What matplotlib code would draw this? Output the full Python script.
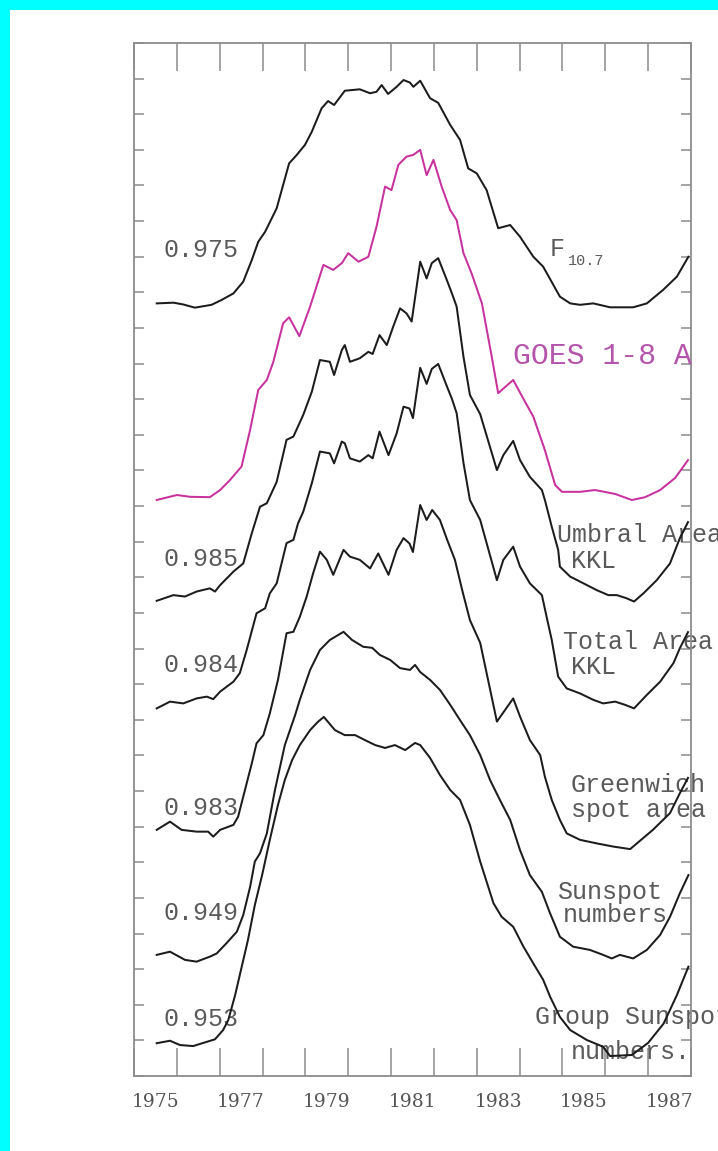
import matplotlib
matplotlib.use("Agg")
import matplotlib.pyplot as plt
from matplotlib.patches import Rectangle
from matplotlib.ticker import MultipleLocator, FixedLocator, FixedFormatter, NullFormatter

# ---- smoothed solar-activity indices, cycle 21 (stacked, arbitrary units) ----
f107_t = [1975.53, 1975.92, 1976.15, 1976.42, 1976.81, 1977.05, 1977.32, 1977.55, 1977.75, 1977.90,
          1978.06, 1978.33, 1978.62, 1978.80, 1978.99, 1979.15, 1979.38, 1979.53, 1979.67, 1979.79,
          1979.92, 1980.27, 1980.51, 1980.66, 1980.78, 1980.93, 1981.13, 1981.29, 1981.44, 1981.52,
          1981.68, 1981.91, 1982.10, 1982.38, 1982.61, 1982.80, 1983.00, 1983.23, 1983.50, 1983.78,
          1984.01, 1984.32, 1984.55, 1984.94, 1985.18, 1985.41, 1985.72, 1986.11, 1986.65, 1986.97,
          1987.35, 1987.67, 1987.94]
f107_v = [21.69, 21.71, 21.66, 21.57, 21.65, 21.79, 21.97, 22.30, 22.91, 23.42,
          23.70, 24.36, 25.62, 25.86, 26.14, 26.51, 27.17, 27.37, 27.26, 27.45,
          27.66, 27.70, 27.59, 27.63, 27.82, 27.57, 27.77, 27.96, 27.89, 27.77,
          27.94, 27.45, 27.32, 26.70, 26.28, 25.48, 25.34, 24.87, 23.80, 23.89,
          23.56, 23.00, 22.72, 21.88, 21.69, 21.65, 21.69, 21.58, 21.58, 21.69,
          22.07, 22.44, 23.00]

goes_t = [1975.53, 1976.00, 1976.31, 1976.77, 1977.01, 1977.24, 1977.51, 1977.71, 1977.90, 1978.10,
          1978.25, 1978.48, 1978.62, 1978.86, 1979.11, 1979.42, 1979.65, 1979.85, 1980.00, 1980.24,
          1980.47, 1980.66, 1980.86, 1981.01, 1981.17, 1981.36, 1981.52, 1981.68, 1981.83, 1981.99,
          1982.18, 1982.38, 1982.53, 1982.69, 1982.88, 1983.12, 1983.35, 1983.50, 1983.66, 1983.85,
          1984.08, 1984.32, 1984.59, 1984.83, 1984.99, 1985.41, 1985.76, 1986.23, 1986.62, 1986.93,
          1987.28, 1987.63, 1987.93]
goes_v = [16.17, 16.31, 16.26, 16.25, 16.45, 16.73, 17.11, 18.14, 19.26, 19.54,
          20.04, 21.13, 21.30, 20.77, 21.60, 22.77, 22.63, 22.82, 23.10, 22.86,
          23.00, 23.84, 24.97, 24.87, 25.58, 25.81, 25.86, 26.00, 25.29, 25.72,
          24.97, 24.31, 24.03, 23.10, 22.53, 21.69, 20.19, 19.17, 19.34, 19.54,
          19.03, 18.51, 17.57, 16.59, 16.40, 16.40, 16.45, 16.34, 16.17, 16.25,
          16.45, 16.79, 17.29]

umbral_t = [1975.53, 1975.92, 1976.19, 1976.46, 1976.77, 1976.89, 1977.01, 1977.32, 1977.55, 1977.75,
            1977.94, 1978.10, 1978.33, 1978.56, 1978.72, 1978.95, 1979.15, 1979.34, 1979.57, 1979.67,
            1979.85, 1979.92, 1980.04, 1980.27, 1980.47, 1980.57, 1980.73, 1980.90, 1981.05, 1981.21,
            1981.36, 1981.48, 1981.68, 1981.83, 1981.95, 1982.10, 1982.30, 1982.42, 1982.53, 1982.69,
            1982.84, 1983.08, 1983.47, 1983.62, 1983.85, 1984.01, 1984.24, 1984.52, 1984.59, 1984.75,
            1984.90, 1984.94, 1985.18, 1985.41, 1985.80, 1986.07, 1986.27, 1986.50, 1986.67, 1986.89,
            1987.20, 1987.51, 1987.74, 1987.93]
umbral_v = [13.34, 13.50, 13.46, 13.60, 13.69, 13.60, 13.78, 14.16, 14.39, 15.24,
            15.98, 16.08, 16.68, 17.86, 17.95, 18.56, 19.21, 20.10, 20.05, 19.68,
            20.38, 20.52, 20.05, 20.15, 20.33, 20.27, 20.80, 20.52, 21.04, 21.55,
            21.41, 21.18, 22.86, 22.39, 22.82, 22.96, 22.35, 21.97, 21.60, 20.19,
            19.12, 18.58, 17.01, 17.43, 17.83, 17.29, 16.82, 16.45, 16.17, 15.42,
            14.77, 14.30, 14.02, 13.88, 13.64, 13.50, 13.50, 13.41, 13.32, 13.55,
            13.92, 14.39, 15.10, 15.55]

total_t = [1975.53, 1975.84, 1976.15, 1976.46, 1976.70, 1976.85, 1977.01, 1977.32, 1977.47, 1977.63,
           1977.86, 1978.06, 1978.17, 1978.33, 1978.56, 1978.72, 1978.83, 1978.95, 1979.15, 1979.34,
           1979.57, 1979.67, 1979.85, 1979.92, 1980.04, 1980.27, 1980.47, 1980.57, 1980.73, 1980.94,
           1981.13, 1981.29, 1981.43, 1981.51, 1981.68, 1981.83, 1981.95, 1982.10, 1982.30, 1982.42,
           1982.53, 1982.69, 1982.84, 1983.08, 1983.47, 1983.62, 1983.85, 1984.01, 1984.24, 1984.52,
           1984.63, 1984.75, 1984.90, 1985.10, 1985.41, 1985.72, 1985.95, 1986.23, 1986.46, 1986.67,
           1986.97, 1987.28, 1987.59, 1987.74, 1987.93]
total_v = [10.32, 10.51, 10.46, 10.60, 10.65, 10.58, 10.79, 11.07, 11.31, 11.96,
           12.99, 13.13, 13.55, 13.83, 14.96, 15.05, 15.52, 15.84, 16.64, 17.53,
           17.48, 17.20, 17.81, 17.76, 17.34, 17.25, 17.43, 17.34, 18.09, 17.43,
           18.04, 18.79, 18.74, 18.47, 19.88, 19.43, 19.85, 19.99, 19.37, 19.01,
           18.61, 17.21, 16.17, 15.61, 13.92, 14.49, 14.86, 14.30, 13.83, 13.50,
           12.89, 12.24, 11.21, 10.88, 10.74, 10.56, 10.46, 10.51, 10.42, 10.32,
           10.70, 11.07, 11.59, 12.01, 12.46]

green_t = [1975.53, 1975.84, 1976.11, 1976.46, 1976.73, 1976.85, 1977.01, 1977.32, 1977.43, 1977.59,
           1977.75, 1977.86, 1978.02, 1978.17, 1978.36, 1978.56, 1978.72, 1978.87, 1979.03, 1979.18,
           1979.34, 1979.50, 1979.65, 1979.89, 1980.04, 1980.27, 1980.51, 1980.70, 1980.94, 1981.13,
           1981.29, 1981.43, 1981.51, 1981.68, 1981.83, 1981.96, 1982.14, 1982.31, 1982.49, 1982.66,
           1982.84, 1983.08, 1983.47, 1983.85, 1984.01, 1984.24, 1984.48, 1984.59, 1984.75, 1984.94,
           1985.10, 1985.41, 1985.80, 1986.19, 1986.58, 1987.11, 1987.51, 1987.74, 1987.93]
green_v = [6.91, 7.14, 6.91, 6.86, 6.86, 6.72, 6.91, 7.05, 7.28, 8.03,
           8.78, 9.34, 9.57, 10.18, 11.12, 12.43, 12.47, 12.89, 13.46, 14.11,
           14.72, 14.49, 14.07, 14.77, 14.58, 14.49, 14.25, 14.67, 14.07, 14.77,
           15.10, 14.95, 14.71, 16.03, 15.61, 15.89, 15.61, 15.05, 14.49, 13.64,
           12.80, 12.16, 9.95, 10.60, 10.09, 9.43, 9.01, 8.40, 7.75, 7.19,
           6.81, 6.63, 6.53, 6.44, 6.37, 6.91, 7.38, 7.94, 8.37]

ssn_t = [1975.53, 1975.84, 1976.19, 1976.46, 1976.77, 1976.93, 1977.16, 1977.40, 1977.55, 1977.71,
         1977.82, 1977.94, 1978.10, 1978.29, 1978.52, 1978.76, 1978.87, 1979.11, 1979.34, 1979.57,
         1979.89, 1980.09, 1980.35, 1980.56, 1980.74, 1980.98, 1981.21, 1981.44, 1981.56, 1981.68,
         1981.91, 1982.14, 1982.38, 1982.61, 1982.84, 1983.08, 1983.31, 1983.54, 1983.78, 1984.01,
         1984.24, 1984.52, 1984.71, 1984.94, 1985.25, 1985.64, 1985.95, 1986.15, 1986.34, 1986.65,
         1986.97, 1987.28, 1987.51, 1987.74, 1987.94]
ssn_v = [3.40, 3.49, 3.26, 3.21, 3.35, 3.44, 3.73, 4.05, 4.52, 5.31,
         6.02, 6.25, 6.81, 8.03, 9.29, 10.13, 10.56, 11.40, 11.96, 12.24,
         12.47, 12.24, 12.05, 12.02, 11.82, 11.68, 11.45, 11.40, 11.54, 11.34,
         11.12, 10.84, 10.42, 9.99, 9.57, 9.01, 8.31, 7.75, 7.19, 6.34,
         5.64, 5.17, 4.57, 3.91, 3.63, 3.54, 3.40, 3.30, 3.40, 3.30,
         3.54, 3.96, 4.47, 5.13, 5.64]

group_t = [1975.53, 1975.84, 1976.07, 1976.38, 1976.70, 1976.89, 1977.08, 1977.20, 1977.36, 1977.47,
           1977.66, 1977.82, 1977.99, 1978.17, 1978.36, 1978.52, 1978.69, 1978.87, 1979.11, 1979.29,
           1979.43, 1979.69, 1979.92, 1980.16, 1980.39, 1980.63, 1980.86, 1981.09, 1981.33, 1981.56,
           1981.68, 1981.91, 1982.14, 1982.38, 1982.61, 1982.84, 1983.08, 1983.39, 1983.58, 1983.85,
           1984.09, 1984.32, 1984.55, 1984.71, 1984.94, 1985.18, 1985.57, 1985.95, 1986.11, 1986.62,
           1987.00, 1987.36, 1987.67, 1987.94]
group_v = [0.92, 0.99, 0.87, 0.84, 0.96, 1.03, 1.29, 1.57, 2.27, 2.84,
           3.82, 4.80, 5.64, 6.63, 7.61, 8.31, 8.87, 9.29, 9.71, 9.94,
           10.08, 9.71, 9.57, 9.57, 9.43, 9.29, 9.21, 9.29, 9.15, 9.35,
           9.29, 8.93, 8.45, 8.03, 7.75, 7.05, 6.02, 4.85, 4.47, 4.19,
           3.63, 3.16, 2.70, 2.23, 1.66, 1.29, 1.01, 0.82, 0.56, 0.59,
           0.93, 1.47, 2.27, 3.07]

# correlation coefficients printed beside each curve (vs. GOES 1-8 A)
corr_labels = ["0.975", "0.985", "0.984", "0.983", "0.949", "0.953"]
corr_y = [23.19, 14.51, 11.54, 7.52, 4.58, 1.60]

year_labels = ["1975", "1977", "1979", "1981", "1983", "1985", "1987"]

INK = "#1c1c1c"
MAGENTA = "#c8329e"
TXT = "#5a5a5a"
FRAME = "#8c8c8c"

fig = plt.figure(figsize=(7.18, 11.51), dpi=100, facecolor="#00ffff")
fig.patches.append(Rectangle((10 / 718, 0), 1, 1 - 10 / 1151, transform=fig.transFigure,
                             facecolor="white", edgecolor="none", zorder=-10))

ax = fig.add_axes([134 / 718, 1 - 1076 / 1151, 557 / 718, 1033 / 1151])
ax.set_zorder(1)
ax.set_facecolor("white")

for t, v in [(f107_t, f107_v), (umbral_t, umbral_v), (total_t, total_v),
             (green_t, green_v), (ssn_t, ssn_v), (group_t, group_v)]:
    ax.plot(t, v, color=INK, lw=1.45, solid_joinstyle="round", zorder=3)
ax.plot(goes_t, goes_v, color=MAGENTA, lw=1.45, solid_joinstyle="round", zorder=3)

ax.set_xlim(1975, 1988)
ax.set_ylim(0, 29)

for sp in ax.spines.values():
    sp.set_color(FRAME)
    sp.set_linewidth(1.3)

ax.xaxis.set_major_locator(MultipleLocator(1))
ax.xaxis.set_major_formatter(NullFormatter())
ax.xaxis.set_minor_locator(FixedLocator([int(s) + 0.5 for s in year_labels]))
ax.xaxis.set_minor_formatter(FixedFormatter(year_labels))
ax.tick_params(axis="x", which="major", direction="in", length=20, width=1.1,
               color=FRAME, top=True, bottom=True)
ax.tick_params(axis="x", which="minor", length=0, pad=12, labelsize=13.5,
               labelcolor="#555555", top=False, bottom=True)
for lab in ax.get_xticklabels(minor=True):
    lab.set_family("DejaVu Serif")

ax.yaxis.set_major_locator(MultipleLocator(1))
ax.yaxis.set_major_formatter(NullFormatter())
ax.tick_params(axis="y", which="major", direction="in", length=7, width=1.1,
               color=FRAME, left=True, right=True)

mono = "Liberation Mono"
for s, y in zip(corr_labels, corr_y):
    ax.text(1975.68, y, s, family=mono, fontsize=18, color=TXT, va="center", ha="left",
            zorder=2)

ax.text(1984.71, 23.22, "F", family=mono, fontsize=18, color=TXT, va="center", ha="left")
ax.text(1985.13, 22.88, "10.7", family=mono, fontsize=11, color=TXT, va="center", ha="left")
ax.text(1983.85, 20.21, "GOES 1-8 A", family=mono, fontsize=21.5, color="#b455ab",
        va="center", ha="left")

curve_names = [
    (1984.87, 15.19, "Umbral Area"), (1985.20, 14.46, "KKL"),
    (1985.01, 12.18, "Total Area"), (1985.20, 11.48, "KKL"),
    (1985.20, 8.17, "Greenwich"), (1985.20, 7.47, "spot area"),
    (1984.87, 5.17, "Sunspot"), (1985.01, 4.52, "numbers"),
    (1984.36, 1.66, "Group Sunspot"), (1985.20, 0.67, "numbers."),
]
for x, y, s in curve_names:
    ax.text(x, y, s, family=mono, fontsize=18, color=TXT, va="center", ha="left",
            clip_on=False, zorder=2)

fig.savefig("out.png", dpi=100, facecolor=fig.get_facecolor())
